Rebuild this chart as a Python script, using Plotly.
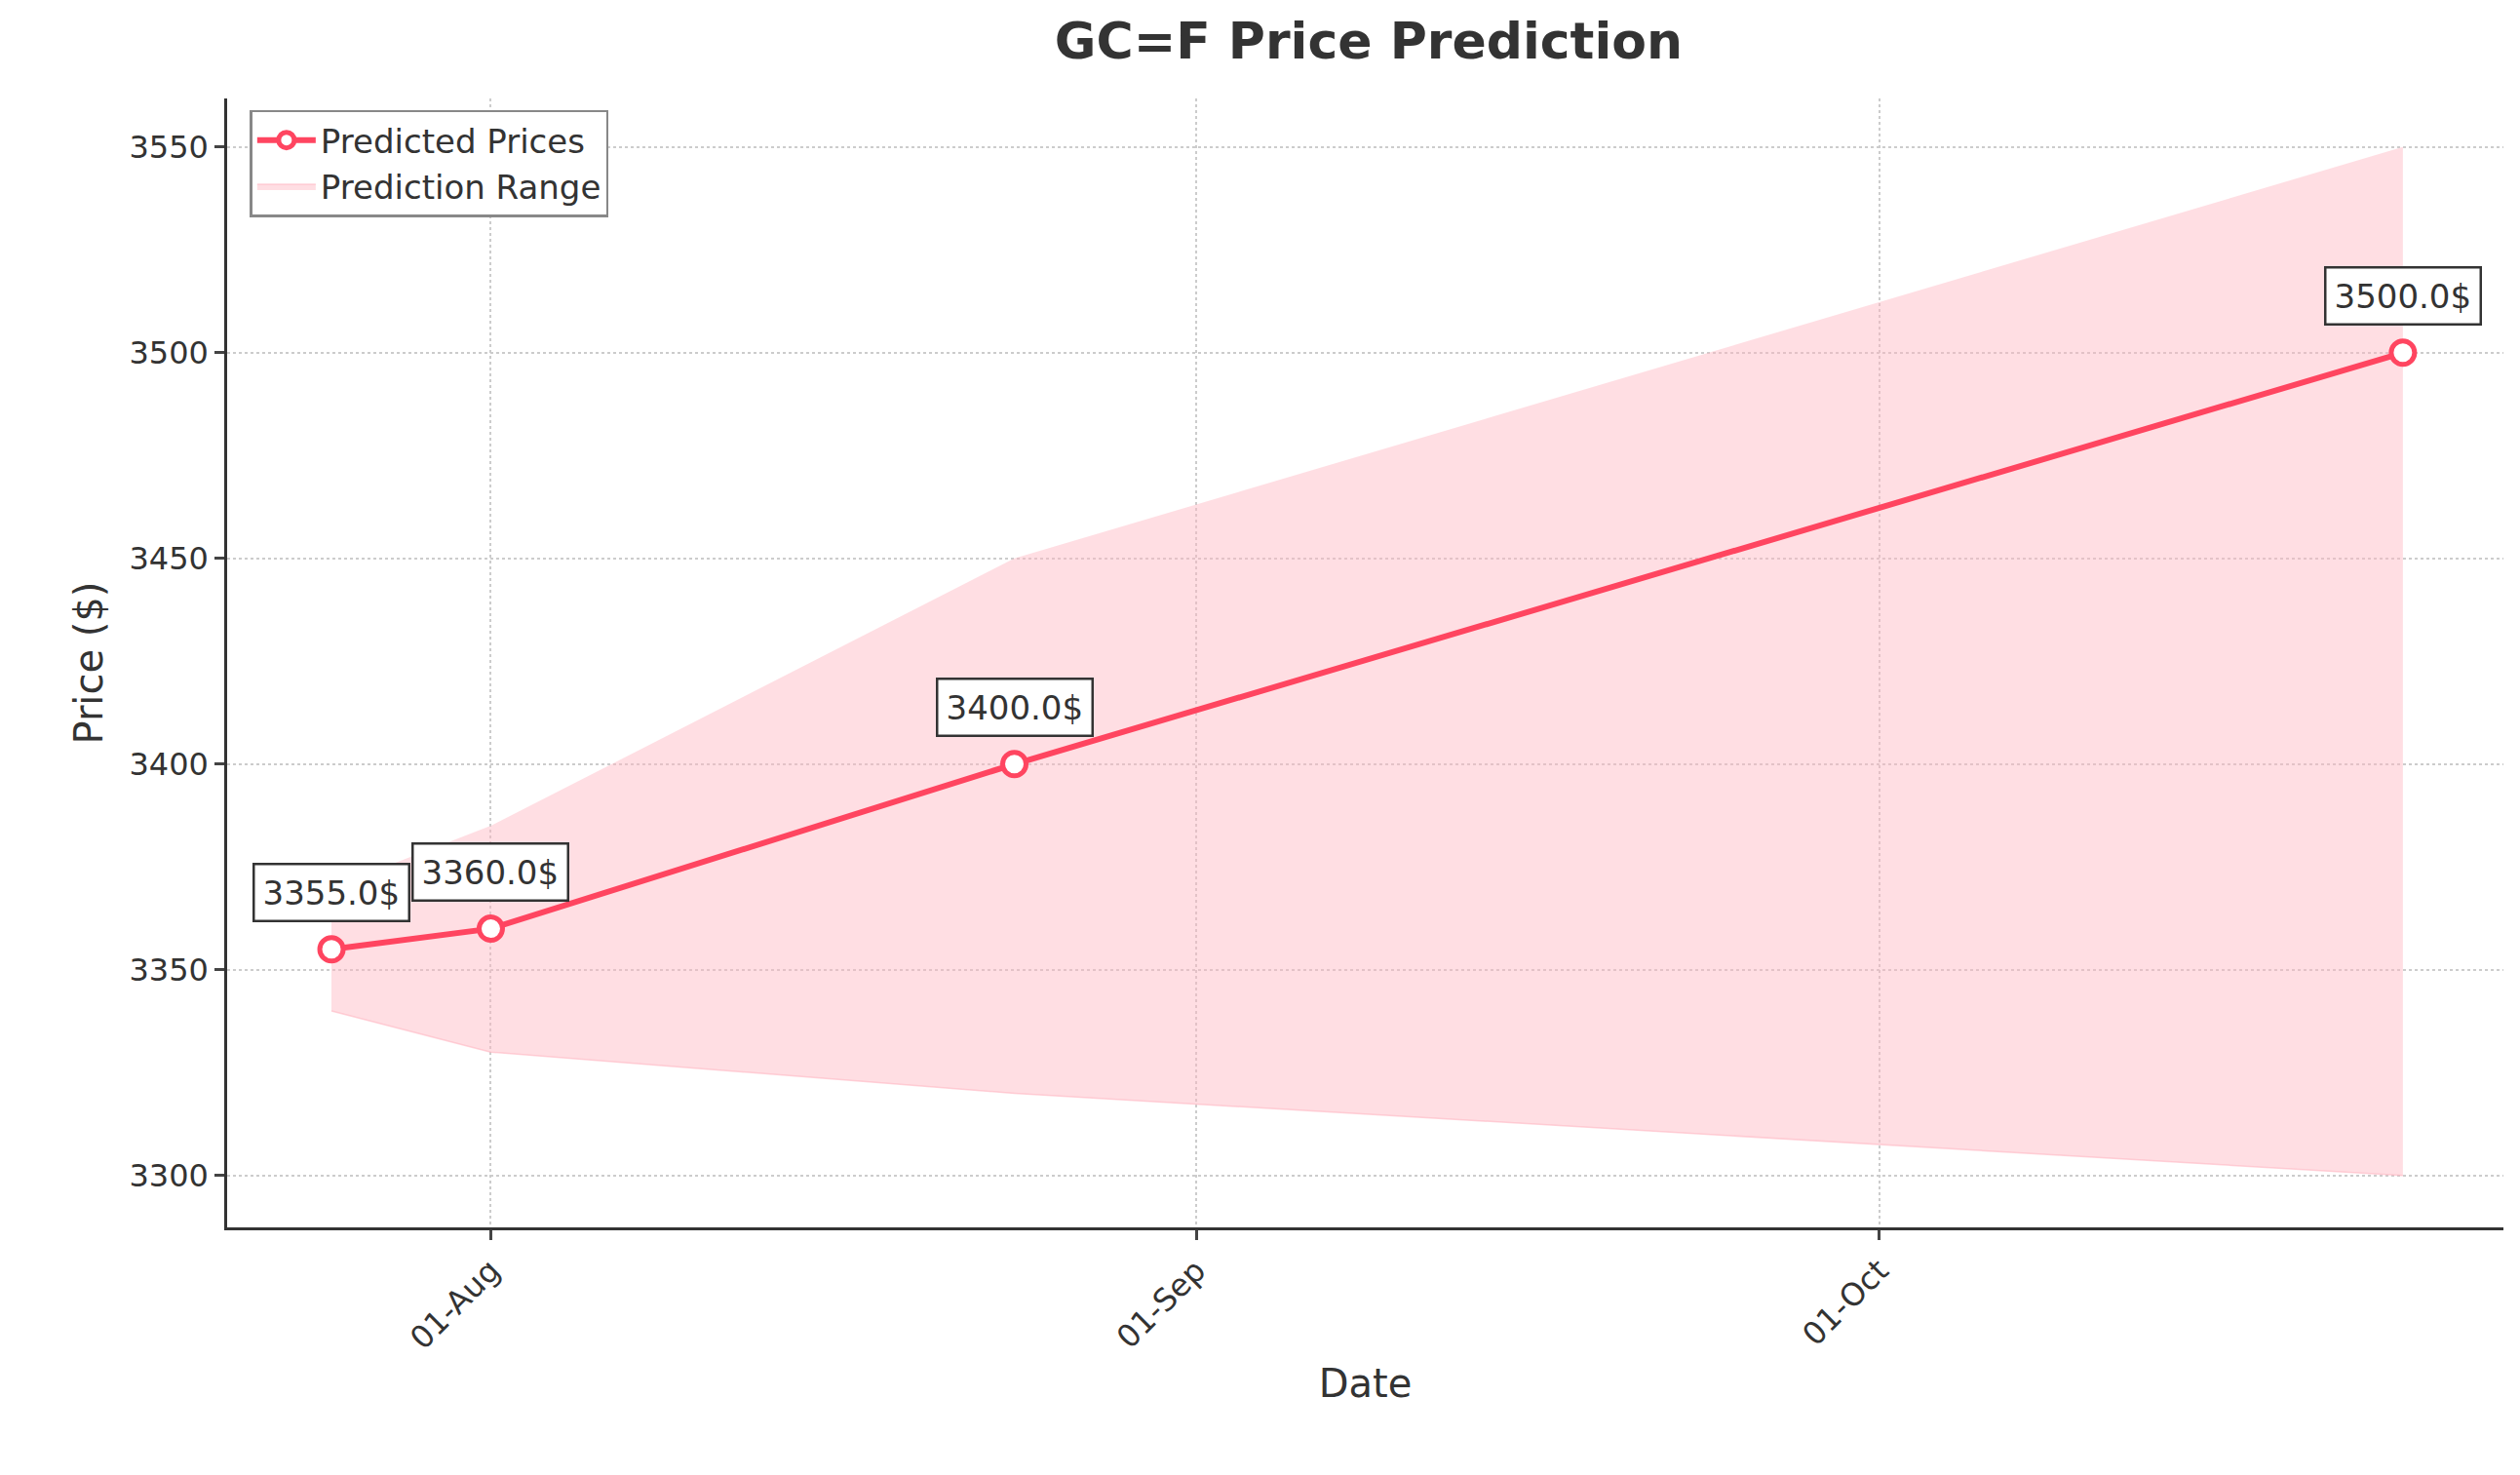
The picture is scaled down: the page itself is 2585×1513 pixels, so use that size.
import plotly.graph_objects as go

dates = ["2025-07-25", "2025-08-01", "2025-08-24", "2025-10-24"]
predicted = [3355.0, 3360.0, 3400.0, 3500.0]
lower = [3340, 3330, 3320, 3300]
upper = [3370, 3385, 3450, 3550]

red = "#ff4560"
fig = go.Figure()
fig.add_trace(go.Scatter(x=dates, y=upper, mode="lines", line=dict(width=0),
                         showlegend=False, hoverinfo="skip"))
fig.add_trace(go.Scatter(x=dates, y=lower, mode="lines", fill="tonexty",
                         fillcolor="rgba(255,182,193,0.45)",
                         line=dict(width=1.5, color="rgba(255,182,193,0.6)"),
                         name="Prediction Range"))
fig.add_trace(go.Scatter(x=dates, y=predicted, mode="lines+markers", name="Predicted Prices",
                         line=dict(color=red, width=6),
                         marker=dict(size=24, color="white", line=dict(color=red, width=5))))

for d, p in zip(dates, predicted):
    fig.add_annotation(x=d, y=p, text=f"{p}$", showarrow=False, yshift=58,
                       font=dict(size=34, color="#333"), bgcolor="white",
                       bordercolor="#333", borderwidth=2.5, borderpad=8)

fig.update_layout(
    width=2585, height=1513, plot_bgcolor="white", paper_bgcolor="white",
    font=dict(family="DejaVu Sans", color="#333"),
    margin=dict(l=225, r=25, t=93, b=262),
    title=dict(text="<b>GC=F Price Prediction</b>", x=0.54, xanchor="center", y=0.99,
               yanchor="top", font=dict(size=52)),
    legend=dict(x=0.01, y=0.99, xanchor="left", yanchor="top", bgcolor="white",
                bordercolor="#888", borderwidth=2.5, font=dict(size=34),
                traceorder="reversed", itemwidth=60),
)
fig.update_xaxes(title=dict(text="Date", font=dict(size=40)),
                 range=["2025-07-20 10:00", "2025-10-28 10:00"],
                 tickvals=["2025-08-01", "2025-09-01", "2025-10-01"],
                 ticktext=["01-Aug", "01-Sep", "01-Oct"], tickangle=-45,
                 tickfont=dict(size=32), showline=True, linecolor="#333", linewidth=2.5,
                 ticks="outside", ticklen=10, tickwidth=2.5,
                 showgrid=True, gridcolor="#ccc", griddash="dot", gridwidth=2, zeroline=False)
fig.update_yaxes(title=dict(text="Price ($)", font=dict(size=40)),
                 range=[3287.4, 3561.8], tickvals=[3300, 3350, 3400, 3450, 3500, 3550],
                 tickfont=dict(size=32), showline=True, linecolor="#333", linewidth=2.5,
                 ticks="outside", ticklen=10, tickwidth=2.5,
                 showgrid=True, gridcolor="#ccc", griddash="dot", gridwidth=2, zeroline=False)

fig.write_html("out.html")
